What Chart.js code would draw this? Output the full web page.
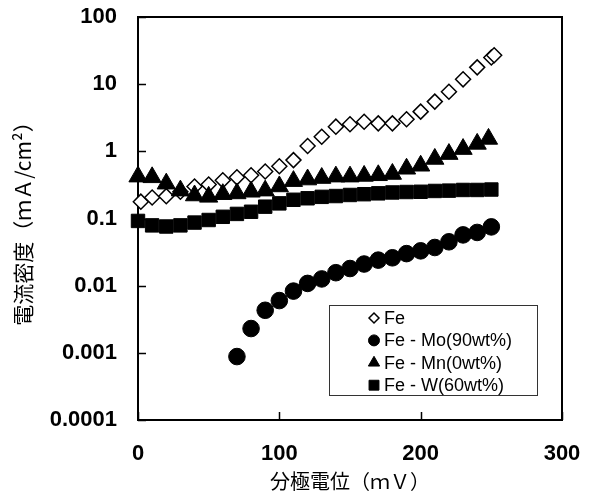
<!DOCTYPE html>
<html>
<head>
<meta charset="utf-8">
<script src="https://cdn.jsdelivr.net/npm/chart.js@4.4.1/dist/chart.umd.min.js"></script>
<style>
  html, body { margin: 0; padding: 0; background: #fff; }
</style>
</head>
<body>
<canvas id="polChart" width="592" height="496"></canvas>
<script>
// axis ticks
const xTicks = [0, 100, 200, 300];
const yTicks = [0.0001, 0.001, 0.01, 0.1, 1, 10, 100];
const yTickLabels = ['0.0001', '0.001', '0.01', '0.1', '1', '10', '100'];

const seriesNames = ['Fe', 'Fe - Mo(90wt%)', 'Fe - Mn(0wt%)', 'Fe - W(60wt%)'];

// Fe
const feX = [2, 10, 20, 30, 40, 50, 60, 70, 80, 90, 100, 110, 120, 130, 140, 150, 160, 170, 180, 190, 200, 210, 220, 230, 240, 250, 252];
const feY = [0.178, 0.205, 0.215, 0.25, 0.30, 0.32, 0.37, 0.41, 0.44, 0.50, 0.60, 0.74, 1.2, 1.65, 2.33, 2.53, 2.76, 2.61, 2.61, 3.0, 3.9, 5.5, 7.7, 11.8, 17.8, 25, 27];

// Fe-Mo
const moX = [70, 80, 90, 100, 110, 120, 130, 140, 150, 160, 170, 180, 190, 200, 210, 220, 230, 240, 250];
const moY = [0.00088, 0.0023, 0.0043, 0.0060, 0.0083, 0.0108, 0.0126, 0.0156, 0.018, 0.021, 0.024, 0.026, 0.030, 0.033, 0.037, 0.045, 0.057, 0.062, 0.075];

// Fe-Mn
const mnX = [0, 10, 20, 30, 40, 50, 60, 70, 80, 90, 100, 110, 120, 130, 140, 150, 160, 170, 180, 190, 200, 210, 220, 230, 240, 248];
const mnY = [0.42, 0.41, 0.33, 0.26, 0.22, 0.21, 0.23, 0.236, 0.25, 0.26, 0.30, 0.36, 0.38, 0.40, 0.42, 0.42, 0.43, 0.44, 0.46, 0.55, 0.61, 0.77, 0.91, 1.08, 1.29, 1.53];

// Fe-W
const wX = [0, 10, 20, 30, 40, 50, 60, 70, 80, 90, 100, 110, 120, 130, 140, 150, 160, 170, 180, 190, 200, 210, 220, 230, 240, 250];
const wY = [0.092, 0.079, 0.076, 0.079, 0.087, 0.095, 0.106, 0.117, 0.126, 0.15, 0.168, 0.19, 0.20, 0.21, 0.216, 0.224, 0.23, 0.237, 0.244, 0.248, 0.25, 0.257, 0.26, 0.266, 0.266, 0.27];

function pts(xs, ys) {
    return xs.map(function (x, i) { return { x: x, y: ys[i] }; });
}

const legendMarks = [
    { pointStyle: 'rectRot', radius: 5, fill: '#fff', borderWidth: 1.5 },
    { pointStyle: 'circle', radius: 5.5, fill: '#000', borderWidth: 1 },
    { pointStyle: 'triangle', radius: 6.5, fill: '#000', borderWidth: 1 },
    { pointStyle: 'rect', radius: 7, fill: '#000', borderWidth: 1 }
];

// box, inward ticks and legend inside plot
const framePlugin = {
    id: 'frame',
    beforeDatasetsDraw(chart) {
        const a = chart.chartArea;
        const c = chart.ctx;
        c.save();
        c.strokeStyle = '#000';
        c.lineWidth = 2;
        c.strokeRect(a.left, a.top, a.right - a.left, a.bottom - a.top);
        c.lineWidth = 1.5;
        c.beginPath();
        yTicks.forEach(function (v) {
            const y = Math.round(chart.scales.y.getPixelForValue(v)) + 0.5;
            c.moveTo(a.left, y);
            c.lineTo(a.left + 8, y);
        });
        xTicks.forEach(function (v) {
            const x = Math.round(chart.scales.x.getPixelForValue(v)) + 0.5;
            c.moveTo(x, a.bottom);
            c.lineTo(x, a.bottom - 8);
        });
        c.stroke();
        c.restore();
    },
    afterDraw(chart) {
        const c = chart.ctx;
        c.save();
        c.fillStyle = '#fff';
        c.fillRect(329.5, 305.5, 208, 90);
        c.strokeStyle = '#333';
        c.lineWidth = 1;
        c.strokeRect(329.5, 305.5, 208, 90);
        c.font = '18px "Liberation Sans", Arial, sans-serif';
        c.textBaseline = 'middle';
        chart.data.datasets.forEach(function (ds, i) {
            const y = 318 + i * 22.4;
            const m = legendMarks[i];
            c.fillStyle = m.fill;
            c.strokeStyle = '#000';
            c.lineWidth = m.borderWidth;
            Chart.helpers.drawPoint(c, { pointStyle: m.pointStyle, radius: m.radius, rotation: 0, borderWidth: m.borderWidth }, 374, y);
            c.fillStyle = '#000';
            c.fillText(ds.label, 384, y + 1);
        });
        c.restore();
    }
};

const ctx = document.getElementById('polChart').getContext('2d');
const polChart = new Chart(ctx, {
    type: 'scatter',
    data: {
        datasets: [{
            label: seriesNames[0],
            data: pts(feX, feY),
            pointStyle: 'rectRot',
            pointRadius: 7.5,
            backgroundColor: '#fff',
            borderColor: '#000',
            borderWidth: 1.5,
            order: 4,
            clip: false
        }, {
            label: seriesNames[1],
            data: pts(moX, moY),
            pointStyle: 'circle',
            pointRadius: 8.3,
            backgroundColor: '#000',
            borderColor: '#000',
            borderWidth: 1,
            order: 3,
            clip: false
        }, {
            label: seriesNames[2],
            data: pts(mnX, mnY),
            pointStyle: 'triangle',
            pointRadius: 10.5,
            backgroundColor: '#000',
            borderColor: '#000',
            borderWidth: 1,
            order: 2,
            clip: false
        }, {
            label: seriesNames[3],
            data: pts(wX, wY),
            pointStyle: 'rect',
            pointRadius: 9.5,
            backgroundColor: '#000',
            borderColor: '#000',
            borderWidth: 1,
            order: 1,
            clip: false
        }]
    },
    options: {
        responsive: false,
        animation: false,
        devicePixelRatio: 1,
        layout: { padding: { left: 0, top: 17, right: 30, bottom: 0 } },
        plugins: {
            legend: { display: false },
            tooltip: { enabled: false }
        },
        scales: {
            x: {
                type: 'linear',
                min: 0,
                max: 300,
                afterBuildTicks: function (scale) {
                    scale.ticks = xTicks.map(function (v) { return { value: v }; });
                },
                afterFit: function (scale) {
                    scale.height = 76;
                    scale.paddingLeft = 0;
                    scale.paddingRight = 0;
                },
                grid: { display: false, drawTicks: false },
                border: { display: false },
                ticks: {
                    padding: 21,
                    maxRotation: 0,
                    color: '#000',
                    font: { family: '"Liberation Sans", Arial, sans-serif', size: 22, weight: 'bold' }
                },
                title: {
                    display: true,
                    text: '分極電位（ｍＶ）',
                    color: '#000',
                    padding: { top: 0, bottom: 3 },
                    font: { family: '"Noto Sans CJK JP", sans-serif', size: 20 }
                }
            },
            y: {
                type: 'logarithmic',
                min: 0.0001,
                max: 100,
                afterBuildTicks: function (scale) {
                    scale.ticks = yTicks.map(function (v) { return { value: v }; });
                },
                afterFit: function (scale) {
                    scale.width = 138;
                    scale.paddingTop = 0;
                    scale.paddingBottom = 0;
                },
                grid: { display: false, drawTicks: false },
                border: { display: false },
                ticks: {
                    padding: 21,
                    color: '#000',
                    font: { family: '"Liberation Sans", Arial, sans-serif', size: 22, weight: 'bold' },
                    callback: function (value) {
                        const i = yTicks.indexOf(value);
                        return i >= 0 ? yTickLabels[i] : '';
                    }
                },
                title: {
                    display: true,
                    text: '電流密度（ｍＡ/cm²）',
                    color: '#000',
                    padding: { top: 10, bottom: 0 },
                    font: { family: '"Noto Sans CJK JP", sans-serif', size: 21 }
                }
            }
        }
    },
    plugins: [framePlugin]
});
</script>
</body>
</html>
